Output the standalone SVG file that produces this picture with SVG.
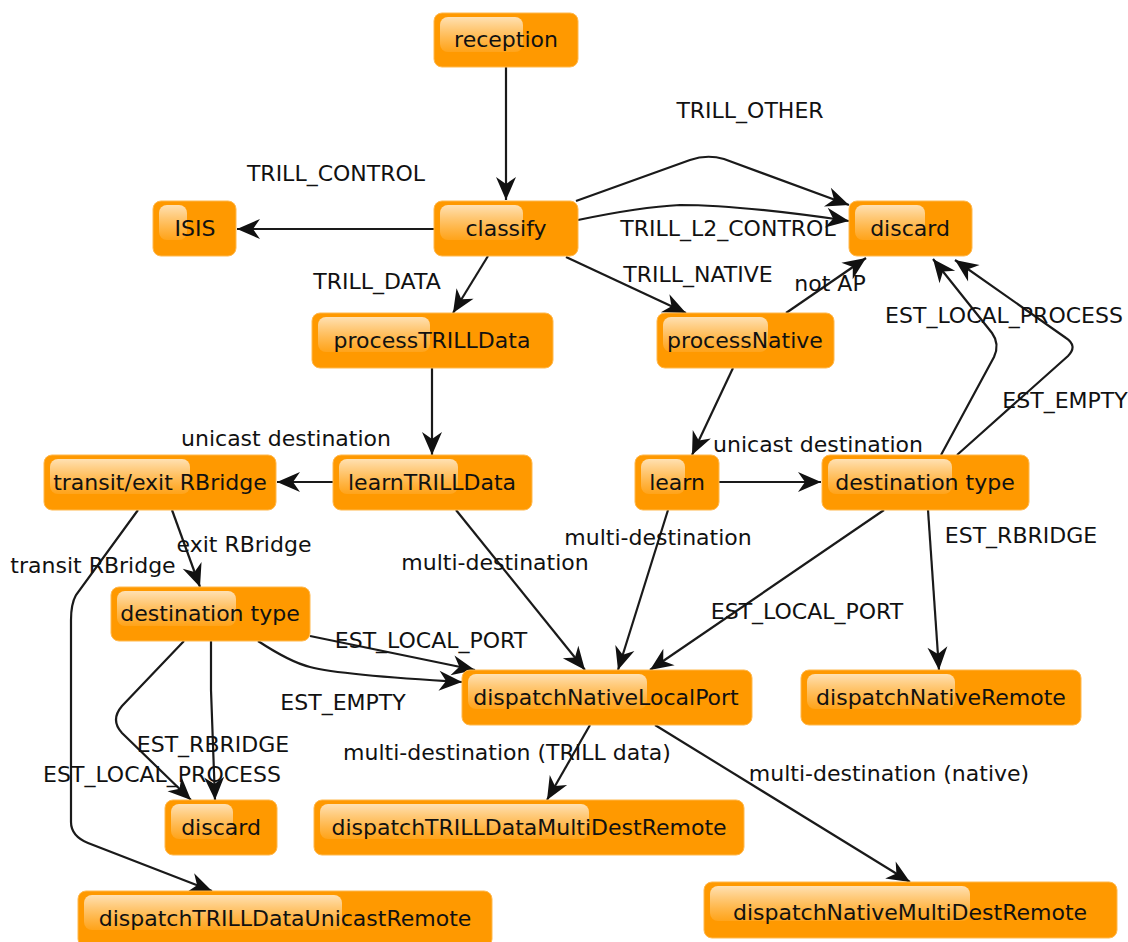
<svg xmlns="http://www.w3.org/2000/svg" width="1128" height="942" viewBox="0 0 1128 942">
  <style>
    .box { fill: #ff9900; stroke: #ffb84d; stroke-width: 1; }
    .gloss { fill: url(#gloss); }
    .nt { font-family: "DejaVu Sans", sans-serif; font-size: 22px; fill: #111; text-anchor: middle; }
    .lbl { font-family: "DejaVu Sans", sans-serif; font-size: 22px; fill: #111; text-anchor: middle; }
    .edge { fill: none; stroke: #1a1a1a; stroke-width: 2.2; marker-end: url(#arr); }
  </style>
  <defs>
    <linearGradient id="gloss" x1="0" y1="0" x2="0" y2="1">
      <stop offset="0" stop-color="#fff3e0" stop-opacity="0.8"/>
      <stop offset="1" stop-color="#ffe0b0" stop-opacity="0.15"/>
    </linearGradient>
    <marker id="arr" viewBox="-24 -11 25 22" refX="0" refY="0" markerWidth="25" markerHeight="22" markerUnits="userSpaceOnUse" orient="auto">
      <path d="M0,0 L-23,-10 L-16,0 L-23,10 Z" fill="#111"/>
    </marker>
  </defs>

  <!-- connectors -->
  <g id="connectors">
    <path class="edge" d="M506 67 L506 200"/>
    <path class="edge" d="M434 229 L237 229"/>
    <path class="edge" d="M576 201 L690 160 Q707 154 724 159 L849 205"/>
    <path class="edge" d="M578 220 Q640 207 680 205 Q740 205 849 221"/>
    <path class="edge" d="M488 256 L453 313"/>
    <path class="edge" d="M566 257 L686 313"/>
    <path class="edge" d="M786 313 L866 258"/>
    <path class="edge" d="M432 368 L432 455"/>
    <path class="edge" d="M333 482 L277 482"/>
    <path class="edge" d="M733 368 L692 455"/>
    <path class="edge" d="M719 482 L821 482"/>
    <path class="edge" d="M941 455 L994 357 Q1000 344 992 333 L933 259"/>
    <path class="edge" d="M957 455 L1068 356 Q1078 346 1066 338 L955 260"/>
    <path class="edge" d="M928 510 L939 670"/>
    <path class="edge" d="M884 510 L650 670"/>
    <path class="edge" d="M668 510 L618 670"/>
    <path class="edge" d="M456 510 L585 670"/>
    <path class="edge" d="M172 510 L200 587"/>
    <path class="edge" d="M138 510 L76 595 Q71 604 71 620 L71 822 Q71 836 88 843 L212 891"/>
    <path class="edge" d="M310 636 L475 670"/>
    <path class="edge" d="M258 641 Q290 662 310 667 Q340 675 462 682"/>
    <path class="edge" d="M184 641 L122 706 Q110 720 122 733 L191 800"/>
    <path class="edge" d="M211 641 L211 690 L215 800"/>
    <path class="edge" d="M590 725 L547 800"/>
    <path class="edge" d="M655 725 L910 882"/>
  </g>

  <!-- edge labels -->
  <g id="labels">
    <text class="lbl" x="750" y="118">TRILL_OTHER</text>
    <text class="lbl" x="336" y="181">TRILL_CONTROL</text>
    <text class="lbl" x="728" y="236">TRILL_L2_CONTROL</text>
    <text class="lbl" x="698" y="282">TRILL_NATIVE</text>
    <text class="lbl" x="377" y="289">TRILL_DATA</text>
    <text class="lbl" x="830" y="291">not AP</text>
    <text class="lbl" x="1004" y="323">EST_LOCAL_PROCESS</text>
    <text class="lbl" x="1065" y="408">EST_EMPTY</text>
    <text class="lbl" x="286" y="446">unicast destination</text>
    <text class="lbl" x="818" y="452">unicast destination</text>
    <text class="lbl" x="1021" y="543">EST_RBRIDGE</text>
    <text class="lbl" x="658" y="545">multi-destination</text>
    <text class="lbl" x="244" y="552">exit RBridge</text>
    <text class="lbl" x="495" y="570">multi-destination</text>
    <text class="lbl" x="93" y="573">transit RBridge</text>
    <text class="lbl" x="807" y="619">EST_LOCAL_PORT</text>
    <text class="lbl" x="431" y="648">EST_LOCAL_PORT</text>
    <text class="lbl" x="343" y="710">EST_EMPTY</text>
    <text class="lbl" x="213" y="752">EST_RBRIDGE</text>
    <text class="lbl" x="507" y="760">multi-destination (TRILL data)</text>
    <text class="lbl" x="162" y="782">EST_LOCAL_PROCESS</text>
    <text class="lbl" x="889" y="781">multi-destination (native)</text>
  </g>

  <!-- nodes -->
  <g id="reception">
    <rect class="box" x="434" y="13" width="144" height="54" rx="8"/>
    <rect class="gloss" x="440" y="17" width="83" height="35" rx="8"/>
    <text class="nt" x="506" y="47">reception</text>
  </g>
  <g id="classify">
    <rect class="box" x="434" y="201" width="144" height="55" rx="8"/>
    <rect class="gloss" x="440" y="205" width="83" height="35" rx="8"/>
    <text class="nt" x="506" y="236">classify</text>
  </g>
  <g id="isis">
    <rect class="box" x="153" y="201" width="83" height="55" rx="8"/>
    <rect class="gloss" x="159" y="205" width="28" height="35" rx="8"/>
    <text class="nt" x="195" y="236">ISIS</text>
  </g>
  <g id="discard-top">
    <rect class="box" x="849" y="201" width="123" height="55" rx="8"/>
    <rect class="gloss" x="855" y="205" width="70" height="35" rx="8"/>
    <text class="nt" x="910" y="236">discard</text>
  </g>
  <g id="processTRILLData">
    <rect class="box" x="312" y="313" width="241" height="55" rx="8"/>
    <rect class="gloss" x="318" y="317" width="112" height="35" rx="8"/>
    <text class="nt" x="432" y="348">processTRILLData</text>
  </g>
  <g id="processNative">
    <rect class="box" x="657" y="313" width="177" height="55" rx="8"/>
    <rect class="gloss" x="663" y="317" width="105" height="35" rx="8"/>
    <text class="nt" x="745" y="348">processNative</text>
  </g>
  <g id="transitExitRBridge">
    <rect class="box" x="44" y="455" width="232" height="55" rx="8"/>
    <rect class="gloss" x="50" y="459" width="140" height="35" rx="8"/>
    <text class="nt" x="160" y="490">transit/exit RBridge</text>
  </g>
  <g id="learnTRILLData">
    <rect class="box" x="333" y="455" width="199" height="55" rx="8"/>
    <rect class="gloss" x="339" y="459" width="119" height="35" rx="8"/>
    <text class="nt" x="432" y="490">learnTRILLData</text>
  </g>
  <g id="learn">
    <rect class="box" x="635" y="455" width="84" height="55" rx="8"/>
    <rect class="gloss" x="641" y="459" width="44" height="35" rx="8"/>
    <text class="nt" x="677" y="490">learn</text>
  </g>
  <g id="destinationType-native">
    <rect class="box" x="822" y="455" width="207" height="55" rx="8"/>
    <rect class="gloss" x="828" y="459" width="124" height="35" rx="8"/>
    <text class="nt" x="925" y="490">destination type</text>
  </g>
  <g id="destinationType-trill">
    <rect class="box" x="111" y="587" width="199" height="54" rx="8"/>
    <rect class="gloss" x="117" y="591" width="119" height="35" rx="8"/>
    <text class="nt" x="210" y="621">destination type</text>
  </g>
  <g id="dispatchNativeLocalPort">
    <rect class="box" x="462" y="670" width="290" height="55" rx="8"/>
    <rect class="gloss" x="468" y="674" width="179" height="35" rx="8"/>
    <text class="nt" x="606" y="705">dispatchNativeLocalPort</text>
  </g>
  <g id="dispatchNativeRemote">
    <rect class="box" x="801" y="670" width="280" height="55" rx="8"/>
    <rect class="gloss" x="807" y="674" width="148" height="35" rx="8"/>
    <text class="nt" x="941" y="705">dispatchNativeRemote</text>
  </g>
  <g id="discard-bottom">
    <rect class="box" x="165" y="800" width="112" height="55" rx="8"/>
    <rect class="gloss" x="171" y="804" width="62" height="35" rx="8"/>
    <text class="nt" x="221" y="835">discard</text>
  </g>
  <g id="dispatchTRILLDataMultiDestRemote">
    <rect class="box" x="314" y="800" width="430" height="55" rx="8"/>
    <rect class="gloss" x="320" y="804" width="269" height="35" rx="8"/>
    <text class="nt" x="529" y="835">dispatchTRILLDataMultiDestRemote</text>
  </g>
  <g id="dispatchTRILLDataUnicastRemote">
    <rect class="box" x="78" y="891" width="414" height="56" rx="8"/>
    <rect class="gloss" x="84" y="895" width="258" height="35" rx="8"/>
    <text class="nt" x="285" y="926">dispatchTRILLDataUnicastRemote</text>
  </g>
  <g id="dispatchNativeMultiDestRemote">
    <rect class="box" x="704" y="882" width="413" height="56" rx="8"/>
    <rect class="gloss" x="710" y="886" width="260" height="35" rx="8"/>
    <text class="nt" x="910" y="920">dispatchNativeMultiDestRemote</text>
  </g>
</svg>
